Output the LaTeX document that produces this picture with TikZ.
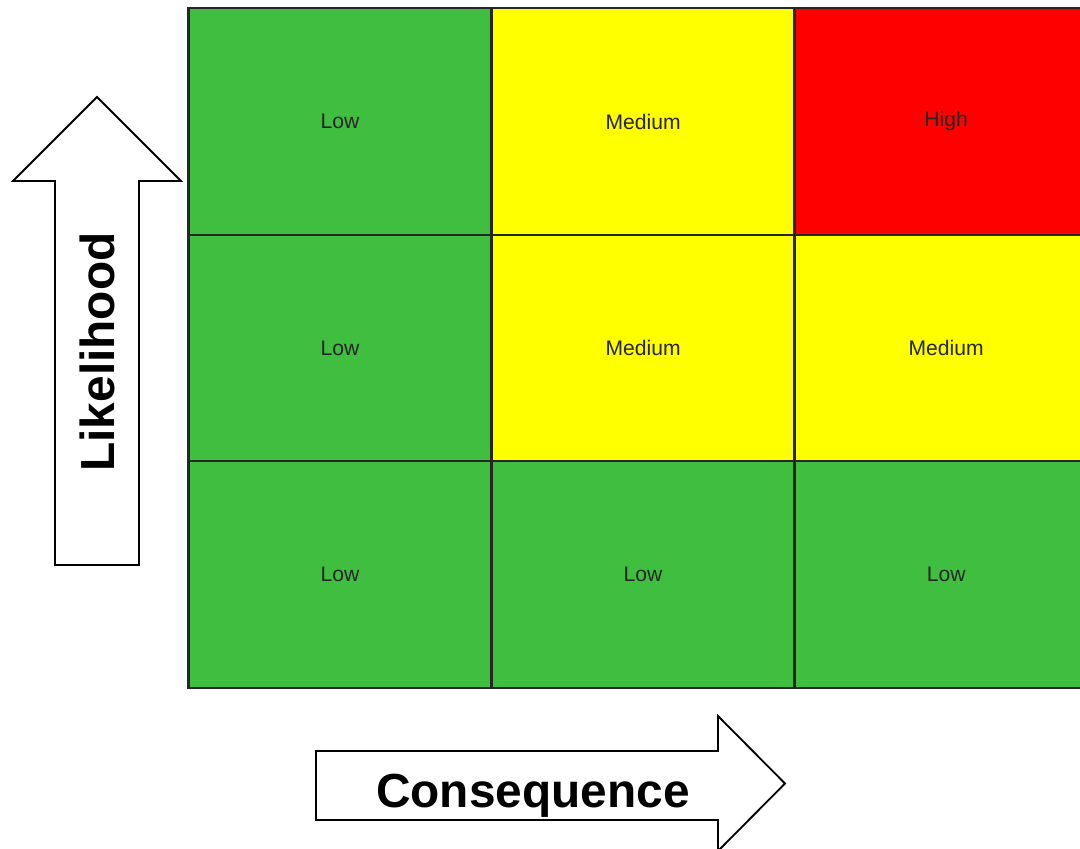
\documentclass[tikz,border=0pt]{standalone}
\usepackage{fontspec}
\setmainfont{Liberation Sans}
\usetikzlibrary{positioning}
\definecolor{riskgreen}{RGB}{64,190,64}
\definecolor{riskyellow}{RGB}{255,255,0}
\definecolor{riskred}{RGB}{255,0,0}
\begin{document}
\begin{tikzpicture}[x=0.025cm,y=-0.025cm,
    cell/.style={draw=black!85,line width=1.6pt,outer sep=0pt,inner sep=0pt,
      minimum width=7.575cm,minimum height=5.66cm,
      font=\fontsize{15}{18}\selectfont,text=black!85},
    bigarrow/.style={draw=black,line width=1.3pt,fill=white,line join=miter},
    axislabel/.style={font=\bfseries\fontsize{34}{40}\selectfont}]
  \useasboundingbox (0,0) rectangle (1080,849);
  \clip (0,0) rectangle (1080,849);
  % risk matrix, top row first
  \node[cell,fill=riskgreen]  (c11) at (340,121.5) {Low};
  \node[cell,fill=riskyellow,right=0pt of c11] (c12) {Medium};
  \node[cell,fill=riskred,right=0pt of c12]    (c13) {High};
  \node[cell,fill=riskgreen,below=0pt of c11]  (c21) {Low};
  \node[cell,fill=riskyellow,right=0pt of c21] (c22) {Medium};
  \node[cell,fill=riskyellow,right=0pt of c22] (c23) {Medium};
  \node[cell,fill=riskgreen,below=0pt of c21]  (c31) {Low};
  \node[cell,fill=riskgreen,right=0pt of c31]  (c32) {Low};
  \node[cell,fill=riskgreen,right=0pt of c32]  (c33) {Low};
  % likelihood arrow
  \draw[bigarrow] (55,565) -- (55,181) -- (13,181) -- (97,97) -- (181,181)
    -- (139,181) -- (139,565) -- cycle;
  \node[axislabel,rotate=90] (likelihood) at (97,352) {Likelihood};
  % consequence arrow
  \draw[bigarrow] (316,751) -- (718,751) -- (718,716) -- (785,783.5) -- (718,851)
    -- (718,820) -- (316,820) -- cycle;
  \node[axislabel] (consequence) at (533,796) {Consequence};
\end{tikzpicture}
\end{document}
